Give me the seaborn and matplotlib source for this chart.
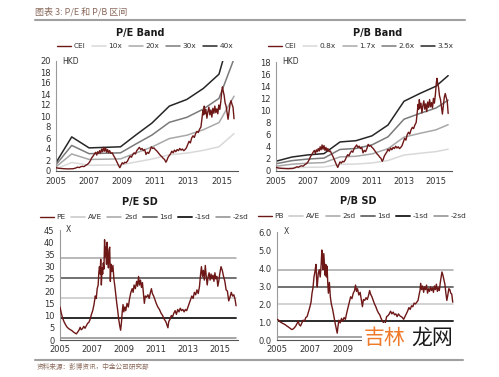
import matplotlib
matplotlib.use("Agg")
import matplotlib.pyplot as plt
from matplotlib.patches import Rectangle
import numpy as np
import pandas as pd
import seaborn as sns

# ---------------- data ----------------
cei_years = [2005.00, 2005.15, 2005.30, 2005.45, 2005.60, 2005.75, 2005.90, 2006.05, 2006.20, 2006.30,
             2006.40, 2006.50, 2006.60, 2006.70, 2006.80, 2006.90, 2007.00, 2007.08, 2007.16, 2007.24,
             2007.32, 2007.40, 2007.46, 2007.52, 2007.58, 2007.64, 2007.70, 2007.76, 2007.82, 2007.88,
             2007.94, 2008.00, 2008.06, 2008.12, 2008.18, 2008.24, 2008.32, 2008.40, 2008.48, 2008.56,
             2008.64, 2008.72, 2008.80, 2008.86, 2008.92, 2009.00, 2009.08, 2009.16, 2009.24, 2009.32,
             2009.40, 2009.48, 2009.56, 2009.64, 2009.72, 2009.80, 2009.88, 2009.96, 2010.04, 2010.12,
             2010.20, 2010.28, 2010.36, 2010.44, 2010.52, 2010.60, 2010.68, 2010.76, 2010.84, 2010.92,
             2011.00, 2011.08, 2011.16, 2011.24, 2011.32, 2011.40, 2011.48, 2011.56, 2011.64, 2011.70,
             2011.76, 2011.84, 2011.92, 2012.00, 2012.08, 2012.16, 2012.24, 2012.32, 2012.40, 2012.48,
             2012.56, 2012.64, 2012.72, 2012.80, 2012.88, 2012.96, 2013.04, 2013.12, 2013.20, 2013.28,
             2013.36, 2013.44, 2013.52, 2013.60, 2013.68, 2013.76, 2013.82, 2013.88, 2013.92, 2013.96,
             2014.00, 2014.06, 2014.12, 2014.18, 2014.24, 2014.30, 2014.36, 2014.42, 2014.48, 2014.54,
             2014.60, 2014.66, 2014.72, 2014.78, 2014.84, 2014.90, 2014.96, 2015.02, 2015.06, 2015.10,
             2015.16, 2015.22, 2015.28, 2015.34, 2015.40, 2015.46, 2015.52, 2015.58, 2015.64, 2015.70,
             2015.76]
cei_values = [0.60, 0.50, 0.45, 0.42, 0.40, 0.38, 0.40, 0.42, 0.55, 0.70,
              0.62, 0.78, 0.85, 0.80, 1.05, 1.20, 1.50, 1.90, 2.40, 2.70,
              3.10, 3.40, 2.90, 3.50, 3.20, 3.70, 3.30, 4.00, 3.50, 4.30,
              3.60, 4.20, 3.40, 3.90, 3.30, 3.70, 3.20, 3.30, 2.80, 2.40,
              1.90, 1.40, 0.90, 0.60, 1.00, 1.50, 1.30, 1.60, 1.50, 1.80,
              2.30, 2.70, 2.50, 3.00, 3.30, 3.10, 3.70, 4.00, 4.30, 3.90,
              4.10, 3.70, 3.90, 3.00, 3.40, 3.20, 3.70, 4.40, 4.10, 4.20,
              3.90, 3.70, 3.40, 3.10, 2.80, 2.60, 2.30, 2.10, 1.60, 1.90,
              2.40, 2.80, 3.10, 3.60, 3.30, 3.80, 3.50, 3.90, 3.70, 4.10,
              3.80, 4.00, 3.70, 3.90, 4.20, 4.80, 5.40, 5.10, 6.00, 6.40,
              6.10, 6.80, 7.20, 7.00, 7.60, 8.00, 9.50, 11.00, 10.20, 11.80,
              10.40, 11.20, 9.60, 10.80, 11.60, 10.20, 11.10, 9.80, 11.40, 10.50,
              11.80, 10.60, 11.30, 10.40, 12.00, 11.20, 12.60, 14.50, 15.30, 14.60,
              13.80, 12.40, 11.80, 10.60, 9.40, 10.80, 12.20, 12.80, 12.10, 11.60,
              9.50]

eps_years = [2005.0, 2005.95, 2007.0, 2008.9, 2009.85, 2010.8, 2011.85, 2012.9, 2013.9, 2014.85, 2015.76]
eps_values = [0.038, 0.155, 0.105, 0.110, 0.165, 0.218, 0.295, 0.325, 0.375, 0.440, 0.680]
pe_multiples = [10, 20, 30, 40]
pe_labels = ["10x", "20x", "30x", "40x"]

bvps_years = [2005.0, 2006.0, 2007.0, 2008.0, 2009.0, 2010.0, 2011.0, 2012.0, 2013.0, 2014.0, 2015.0, 2015.76]
bvps_values = [0.46, 0.66, 0.76, 0.82, 1.37, 1.43, 1.66, 2.17, 3.29, 3.66, 4.00, 4.50]
pb_multiples = [0.8, 1.7, 2.6, 3.5]
pb_labels = ["0.8x", "1.7x", "2.6x", "3.5x"]

pe_years = [2005.00, 2005.08, 2005.16, 2005.25, 2005.35, 2005.45, 2005.55, 2005.65, 2005.75, 2005.85,
            2005.95, 2006.02, 2006.10, 2006.18, 2006.26, 2006.32, 2006.40, 2006.48, 2006.56, 2006.64,
            2006.72, 2006.80, 2006.88, 2006.96, 2007.04, 2007.12, 2007.20, 2007.26, 2007.32, 2007.38,
            2007.42, 2007.46, 2007.50, 2007.54, 2007.58, 2007.62, 2007.66, 2007.70, 2007.74, 2007.78,
            2007.82, 2007.86, 2007.90, 2007.94, 2007.98, 2008.02, 2008.06, 2008.10, 2008.14, 2008.18,
            2008.24, 2008.30, 2008.36, 2008.42, 2008.48, 2008.54, 2008.60, 2008.66, 2008.72, 2008.78,
            2008.83, 2008.88, 2008.93, 2008.98, 2009.04, 2009.10, 2009.18, 2009.26, 2009.34, 2009.42,
            2009.50, 2009.56, 2009.62, 2009.70, 2009.78, 2009.84, 2009.90, 2009.96, 2010.02, 2010.08,
            2010.14, 2010.20, 2010.26, 2010.32, 2010.40, 2010.48, 2010.56, 2010.64, 2010.70, 2010.76,
            2010.84, 2010.92, 2011.00, 2011.10, 2011.20, 2011.30, 2011.40, 2011.50, 2011.60, 2011.68,
            2011.73, 2011.78, 2011.86, 2011.94, 2012.02, 2012.10, 2012.18, 2012.26, 2012.34, 2012.42,
            2012.50, 2012.58, 2012.66, 2012.74, 2012.82, 2012.90, 2012.98, 2013.06, 2013.14, 2013.22,
            2013.30, 2013.38, 2013.46, 2013.54, 2013.62, 2013.70, 2013.76, 2013.82, 2013.88, 2013.94,
            2014.00, 2014.06, 2014.12, 2014.18, 2014.24, 2014.30, 2014.36, 2014.42, 2014.48, 2014.54,
            2014.60, 2014.66, 2014.72, 2014.78, 2014.84, 2014.90, 2014.96, 2015.04, 2015.12, 2015.20,
            2015.28, 2015.36, 2015.44, 2015.52, 2015.60, 2015.68, 2015.76, 2015.84, 2015.92, 2015.98]
pe_values = [13.5, 11.0, 9.0, 7.5, 6.2, 5.2, 4.6, 4.2, 3.8, 3.2,
             2.8, 2.5, 3.2, 4.0, 5.2, 4.2, 4.6, 5.6, 4.8, 5.8,
             6.8, 7.2, 8.5, 10.5, 12.0, 14.5, 18.0, 17.0, 21.0, 22.5,
             27.5, 30.0, 27.0, 33.0, 22.5, 29.5, 27.0, 31.5, 29.0, 41.0,
             34.0, 38.0, 31.0, 40.0, 33.0, 29.5, 37.0, 38.0, 24.0, 31.0,
             28.0, 30.5, 25.0, 22.0, 18.5, 15.0, 12.0, 8.5, 6.0, 4.0,
             7.0, 11.5, 14.5, 11.5, 13.5, 12.0, 15.0, 13.5, 17.0, 19.5,
             21.0, 19.5, 22.5, 21.0, 24.0, 22.0, 26.0, 22.5, 24.5, 21.5,
             23.5, 19.0, 15.0, 18.0, 17.5, 18.5, 17.0, 19.5, 21.0, 19.0,
             18.0, 16.5, 15.0, 13.5, 12.5, 11.0, 10.0, 8.5, 7.5, 6.0,
             5.0, 7.5, 8.5, 10.0, 9.5, 11.0, 12.0, 10.5, 12.5, 11.5,
             13.0, 12.0, 12.5, 11.5, 12.5, 12.0, 13.5, 15.0, 16.5, 18.0,
             17.0, 19.5, 18.5, 20.5, 19.0, 22.0, 26.5, 30.0, 26.0, 28.5,
             24.5, 30.5, 26.0, 22.5, 26.0, 27.5, 24.5, 27.0, 25.0, 26.5,
             24.0, 27.5, 25.0, 26.0, 22.0, 24.0, 27.0, 30.0, 28.5, 26.0,
             24.0, 20.5, 20.0, 16.0, 17.5, 19.5, 18.0, 18.5, 16.5, 14.0]
pe_sd_levels = [17.1, 33.5, 25.2, 9.0, 0.9]   # AVE, 2sd, 1sd, -1sd, -2sd

pb_years = [2005.00, 2005.10, 2005.20, 2005.30, 2005.40, 2005.50, 2005.60, 2005.70, 2005.80, 2005.90,
            2006.00, 2006.08, 2006.16, 2006.24, 2006.30, 2006.36, 2006.44, 2006.52, 2006.60, 2006.68,
            2006.76, 2006.84, 2006.92, 2007.00, 2007.08, 2007.14, 2007.20, 2007.26, 2007.32, 2007.38,
            2007.42, 2007.46, 2007.52, 2007.58, 2007.64, 2007.70, 2007.74, 2007.78, 2007.82, 2007.86,
            2007.90, 2007.94, 2007.98, 2008.02, 2008.06, 2008.10, 2008.14, 2008.20, 2008.26, 2008.32,
            2008.40, 2008.48, 2008.56, 2008.64, 2008.68, 2008.72, 2008.78, 2008.86, 2008.94, 2009.02,
            2009.10, 2009.18, 2009.26, 2009.34, 2009.42, 2009.50, 2009.58, 2009.66, 2009.74, 2009.80,
            2009.86, 2009.92, 2010.00, 2010.08, 2010.16, 2010.22, 2010.28, 2010.36, 2010.44, 2010.52,
            2010.60, 2010.66, 2010.72, 2010.80, 2010.88, 2010.96, 2011.04, 2011.12, 2011.20, 2011.28,
            2011.36, 2011.44, 2011.52, 2011.58, 2011.64, 2011.70, 2011.78, 2011.86, 2011.94, 2012.02,
            2012.10, 2012.18, 2012.26, 2012.34, 2012.42, 2012.50, 2012.58, 2012.66, 2012.74, 2012.82,
            2012.90, 2012.98, 2013.06, 2013.14, 2013.22, 2013.30, 2013.38, 2013.46, 2013.54, 2013.62,
            2013.68, 2013.74, 2013.78, 2013.84, 2013.90, 2013.96, 2014.02, 2014.08, 2014.14, 2014.20,
            2014.26, 2014.32, 2014.38, 2014.44, 2014.50, 2014.56, 2014.62, 2014.68, 2014.74, 2014.80,
            2014.86, 2014.92, 2014.98, 2015.04, 2015.08, 2015.14, 2015.20, 2015.26, 2015.32, 2015.38,
            2015.44, 2015.50, 2015.56, 2015.62, 2015.68, 2015.74]
pb_values = [1.15, 1.10, 1.00, 0.95, 0.90, 0.85, 0.78, 0.72, 0.65, 0.58,
             0.62, 0.70, 0.80, 0.95, 1.05, 0.85, 0.78, 0.95, 1.10, 1.05,
             1.25, 1.30, 1.55, 1.80, 2.10, 2.60, 2.90, 3.50, 3.80, 4.20,
             3.40, 2.95, 3.70, 3.90, 3.50, 4.20, 5.00, 4.30, 3.90, 4.80,
             4.20, 3.60, 4.20, 3.50, 4.10, 3.20, 2.60, 3.20, 2.40, 2.00,
             1.70, 1.30, 0.90, 0.55, 0.38, 0.70, 1.10, 0.95, 1.20, 1.05,
             1.25, 1.15, 1.50, 1.80, 2.10, 2.40, 2.30, 2.60, 2.75, 3.05,
             2.70, 2.85, 2.50, 2.65, 2.20, 1.85, 2.25, 2.20, 2.35, 2.25,
             2.50, 2.75, 2.55, 2.40, 2.20, 2.00, 1.85, 1.65, 1.50, 1.40,
             1.20, 1.05, 0.95, 0.75, 1.05, 1.30, 1.35, 1.45, 1.60, 1.45,
             1.55, 1.40, 1.45, 1.30, 1.45, 1.35, 1.30, 1.25, 1.15, 1.30,
             1.45, 1.60, 1.80, 1.70, 1.90, 1.85, 2.05, 2.00, 2.10, 2.20,
             2.50, 2.75, 3.15, 2.80, 3.00, 2.65, 2.95, 2.80, 3.05, 2.60,
             2.85, 2.70, 2.95, 2.75, 2.90, 2.65, 3.00, 2.80, 3.10, 2.70,
             2.90, 2.75, 3.20, 3.55, 3.78, 3.60, 3.35, 3.10, 2.60, 2.20,
             2.50, 2.85, 2.80, 2.60, 2.55, 2.10]
pb_sd_levels = [2.0, 3.88, 2.95, 1.08, 0.17]   # AVE, 2sd, 1sd, -1sd, -2sd

sd_labels = ["AVE", "2sd", "1sd", "-1sd", "-2sd"]
year_ticks = [2005, 2007, 2009, 2011, 2013, 2015]
pb_sd_year_ticks = [2005, 2007, 2009]   # the rest are hidden under the watermark

# ---------------- style ----------------
sns.set_theme(style="white")
plt.rcParams["font.family"] = ["DejaVu Sans", "Noto Sans CJK SC"]

RED = "#6e1717"
band_colors = ["#d9d9d9", "#a8a8a8", "#7a7a7a", "#262626"]
sd_colors = ["#cfcfcf", "#a6a6a6", "#666666", "#2b2b2b", "#8c8c8c"]
sd_widths = [1.3, 1.1, 1.3, 1.4, 1.1]

W, H = 499, 377
fig = plt.figure(figsize=(W / 100, H / 100), dpi=100)


def rect(l, t, r, b):
    return [l / W, 1 - b / H, (r - l) / W, (b - t) / H]


ax1 = fig.add_axes(rect(56, 61, 238, 171))
ax2 = fig.add_axes(rect(276, 62, 452, 171))
ax3 = fig.add_axes(rect(60, 230, 238, 340))
ax4 = fig.add_axes(rect(277, 232, 457, 340))


def style(ax, xmax, ylim, yticks, fmt, unit, xt=year_ticks, xpad=4.2):
    ax.set_xlim(2005, xmax)
    ax.set_ylim(*ylim)
    ax.set_xticks(xt)
    ax.set_xticklabels([str(y) for y in xt])
    ax.set_yticks(yticks)
    ax.set_yticklabels([fmt.format(v) for v in yticks])
    for s in ["top", "right"]:
        ax.spines[s].set_visible(False)
    ax.spines["left"].set_color("#9a9a9a")
    ax.spines["left"].set_linewidth(0.8)
    ax.spines["bottom"].set_color("#555555")
    ax.spines["bottom"].set_linewidth(0.8)
    ax.tick_params(axis="y", labelsize=6, colors="#333333", length=2, width=0.6, pad=2, direction="out")
    ax.tick_params(axis="x", labelsize=6, colors="#333333", length=0, pad=xpad)
    ax.set_xlabel("")
    ax.set_ylabel("")
    ax.text(0.035, 1.0, unit, transform=ax.transAxes, fontsize=5.5, color="#333333", va="center", ha="left")


def legend(ax, handles, labels, cx, cy, spacing=0.9):
    ax.legend(handles, labels, loc="center", bbox_to_anchor=(cx / W, 1 - cy / H),
              bbox_transform=fig.transFigure, ncol=len(labels), frameon=False, fontsize=5.3,
              handlelength=1.9, handletextpad=0.35, columnspacing=spacing, borderpad=0.1,
              labelcolor="#333333")


order = [4, 0, 1, 2, 3]

# P/E Band
eps_df = pd.DataFrame({"year": eps_years, "eps": eps_values})
for m, lab, c in zip(pe_multiples, pe_labels, band_colors):
    sns.lineplot(x=eps_df["year"], y=eps_df["eps"] * m, ax=ax1, color=c, lw=1.1, label=lab, estimator=None)
sns.lineplot(x=cei_years, y=cei_values, ax=ax1, color=RED, lw=1.0, label="CEI", estimator=None, zorder=5)
style(ax1, 2016, (0, 20), list(range(0, 21, 2)), "{:d}", "HKD")
h, l = ax1.get_legend_handles_labels()
legend(ax1, [h[i] for i in order], [l[i] for i in order], 145, 46)

# P/B Band
bv_df = pd.DataFrame({"year": bvps_years, "bvps": bvps_values})
for m, lab, c in zip(pb_multiples, pb_labels, band_colors):
    sns.lineplot(x=bv_df["year"], y=bv_df["bvps"] * m, ax=ax2, color=c, lw=1.1, label=lab, estimator=None)
sns.lineplot(x=cei_years, y=cei_values, ax=ax2, color=RED, lw=1.0, label="CEI", estimator=None, zorder=5)
style(ax2, 2016, (0, 18), list(range(0, 19, 2)), "{:d}", "HKD")
h, l = ax2.get_legend_handles_labels()
legend(ax2, [h[i] for i in order], [l[i] for i in order], 361, 46)


def sd_chart(ax, years, values, name, levels, cx, cy, ylim, yticks, fmt, xmax, xt):
    sns.lineplot(x=years, y=values, ax=ax, color=RED, lw=1.0, label=name, estimator=None, zorder=5)
    for v, lab, c, w in zip(levels, sd_labels, sd_colors, sd_widths):
        sns.lineplot(x=[years[0], years[-1]], y=[v, v], ax=ax, color=c, lw=w, label=lab, estimator=None, zorder=2)
    style(ax, xmax, ylim, yticks, fmt, "X", xt, xpad=3.8)
    h, l = ax.get_legend_handles_labels()
    legend(ax, h, l, cx, cy, spacing=0.75)


sd_chart(ax3, pe_years, pe_values, "PE", pe_sd_levels, 144, 217, (0, 45), list(range(0, 46, 5)), "{:d}",
         2016.1, year_ticks)
sd_chart(ax4, pb_years, pb_values, "PB", pb_sd_levels, 362, 216, (0, 6), [0, 1, 2, 3, 4, 5, 6], "{:.1f}",
         2016.0, pb_sd_year_ticks)

# titles
for txt, x, y in [("P/E Band", 140, 33), ("P/B Band", 378, 33), ("P/E SD", 140, 202), ("P/B SD", 358, 201)]:
    fig.text(x / W, 1 - y / H, txt, fontsize=7, fontweight="bold", ha="center", va="center", color="#1a1a1a")

# header / footer
BROWN = "#8a6a5c"
fig.text(35 / W, 1 - 12 / H, "图表 3: P/E 和 P/B 区间", fontsize=6.5, color=BROWN, style="italic",
         family=["Noto Sans CJK SC", "DejaVu Sans"], ha="left", va="center")
fig.add_artist(plt.Line2D([35 / W, 465 / W], [1 - 20 / H, 1 - 20 / H], color="#a0a0a0", lw=1.5))
fig.add_artist(plt.Line2D([35 / W, 463 / W], [1 - 360 / H, 1 - 360 / H], color="#a0a0a0", lw=1.5))
fig.text(37 / W, 1 - 367 / H, "资料来源：彭博资讯，中金公司研究部", fontsize=4.8, color=BROWN,
         family=["Noto Sans CJK SC", "DejaVu Sans"], ha="left", va="center")

# watermark
fig.add_artist(Rectangle((362 / W, 1 - 352 / H), 100 / W, 29 / H, transform=fig.transFigure,
                         facecolor="white", edgecolor="none", zorder=10))
fig.text(364 / W, 1 - 338 / H, "吉林", fontsize=15, color="#ef7a2c", family=["Noto Sans CJK SC"],
         ha="left", va="center", zorder=11)
fig.text(411 / W, 1 - 338 / H, "龙网", fontsize=15, color="#1a1a1a", family=["Noto Sans CJK SC"],
         ha="left", va="center", zorder=11)

fig.savefig("out.png", dpi=100, facecolor="white")
